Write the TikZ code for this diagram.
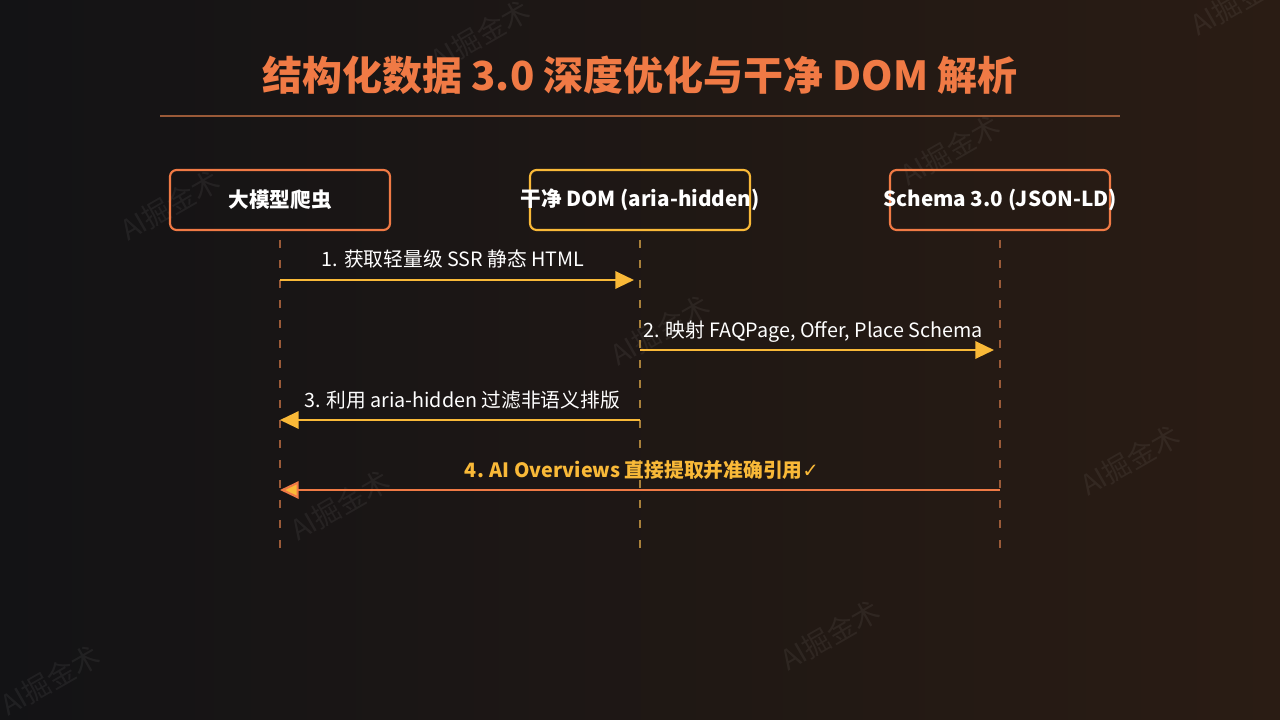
\documentclass[tikz,border=0pt]{standalone}
\usepackage{fontspec}
\setmainfont{Noto Sans CJK SC}
\newfontfamily\symfont{DejaVu Sans}
\usetikzlibrary{arrows.meta}
\definecolor{bgleft}{HTML}{131315}
\definecolor{bgright}{HTML}{2A1C14}
\definecolor{accent}{HTML}{F07A45}
\definecolor{gold}{HTML}{F9B938}
\definecolor{lifebrown}{HTML}{9A5A38}
\definecolor{lifegold}{HTML}{A8803A}
\tikzset{
  actor/.style={draw=#1, line width=1.6pt, rounded corners=5pt, minimum width=165pt,
    minimum height=45pt, inner sep=0pt},
  actortext/.style={text=white, font=\fontsize{15.5}{18}\selectfont\bfseries},
  life/.style={draw=#1, line width=1.3pt, dash pattern=on 6pt off 9pt},
  msg/.style={draw=#1, line width=1.6pt, -{Triangle[length=14pt,width=13pt,fill=#1]}},
  lbl/.style={text=white, font=\fontsize{14.8}{17}\selectfont, anchor=base},
  wmark/.style={text=white, opacity=0.06, rotate=30, font=\fontsize{21}{24}\selectfont}
}
\begin{document}
\begin{tikzpicture}[x=0.75pt,y=0.75pt,yscale=-1,xscale=1]
  \shade[left color=bgleft, right color=bgright] (0,0) rectangle (1280,720);
  \useasboundingbox (0,0) rectangle (1280,720);
  % watermarks
  \foreach \wx/\wy in {170/205,480/35,660/330,950/150,340/505,1130/460,830/635,50/680,1240/0}
    \node[wmark] at (\wx,\wy) {AI掘金术};
  % title
  \node (title) at (640,75) [text=accent, font=\fontsize{30}{36}\selectfont\bfseries] {结构化数据 3.0 深度优化与干净 DOM 解析};
  \draw[draw=lifebrown, line width=0.8pt] (160,116) -- (1120,116);
  % actors
  \node (crawler) at (280,200) [actor=accent, label={[actortext]center:大模型爬虫}] {};
  \node (dom) at (640,200) [actor=gold, label={[actortext]center:干净 DOM (aria-hidden)}] {};
  \node (schema) at (1000,200) [actor=accent, label={[actortext]center:Schema 3.0 (JSON-LD)}] {};
  \coordinate (crawlerEnd) at (280,552);
  \coordinate (domEnd) at (640,552);
  \coordinate (schemaEnd) at (1000,552);
  \draw[life=lifebrown] (crawler.south |- 0,240) -- (crawlerEnd);
  \draw[life=lifegold] (dom.south |- 0,240) -- (domEnd);
  \draw[life=lifebrown] (schema.south |- 0,240) -- (schemaEnd);
  % messages
  \coordinate (m1a) at (280,280); \coordinate (m1b) at (634,280);
  \coordinate (m2a) at (640,350); \coordinate (m2b) at (994,350);
  \coordinate (m3a) at (640,420); \coordinate (m3b) at (280,420);
  \coordinate (m4a) at (1000,490); \coordinate (m4b) at (280,490);
  \draw[msg=gold] (m1a) -- (m1b);
  \node[lbl] at (453,267) {1. 获取轻量级 SSR 静态 HTML};
  \draw[msg=gold] (m2a) -- (m2b);
  \node[lbl] at (813,337) {2. 映射 FAQPage, Offer, Place Schema};
  \draw[msg=gold] (m3a) -- (m3b);
  \node[lbl] at (462,407) {3. 利用 aria-hidden 过滤非语义排版};
  \draw[draw=accent, line width=1.6pt, -{Triangle[length=14pt,width=13pt,fill=gold]}] (m4a) -- (m4b);
  \node[lbl, text=gold, font=\fontsize{14.8}{17}\selectfont\bfseries] at (642,477) {4. AI Overviews 直接提取并准确引用{\symfont\mdseries ✓}};
\end{tikzpicture}
\end{document}
